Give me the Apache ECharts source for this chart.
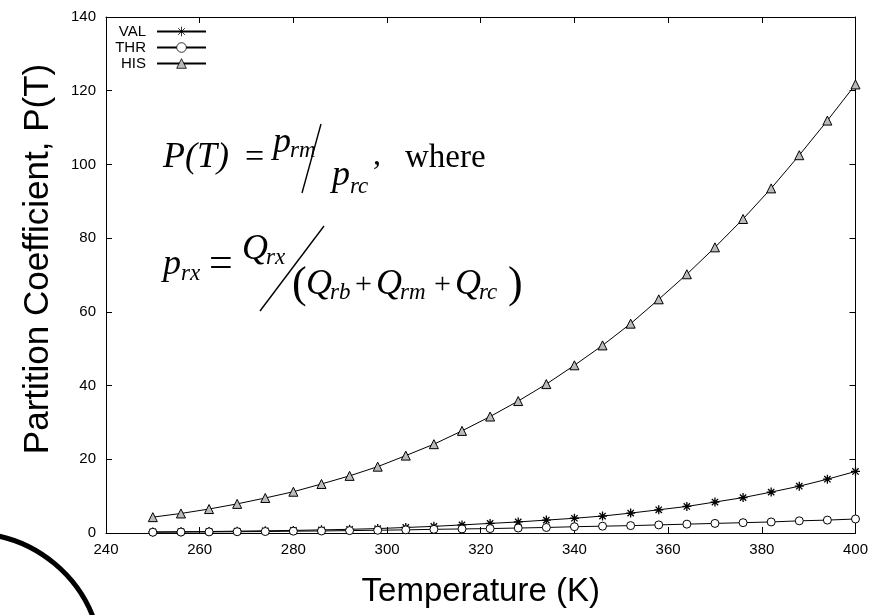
<!DOCTYPE html>
<html>
<head>
<meta charset="utf-8">
<script src="https://cdn.jsdelivr.net/npm/echarts@6/dist/echarts.min.js"></script>
<style>
  html, body { margin: 0; padding: 0; background: #fff; }
  #chart { width: 871px; height: 615px; }
</style>
</head>
<body>
<div id="chart"></div>
<script>
// temperatures (K) sampled every 6 K
var temps = [250, 256, 262, 268, 274, 280, 286, 292, 298, 304, 310, 316, 322,
             328, 334, 340, 346, 352, 358, 364, 370, 376, 382, 388, 394, 400];

// partition coefficient
var valData = [0.3, 0.35, 0.4, 0.5, 0.6, 0.7, 0.85, 1.0, 1.2, 1.5, 1.8, 2.2, 2.6,
               3.0, 3.5, 4.0, 4.6, 5.4, 6.3, 7.2, 8.4, 9.6, 11.1, 12.7, 14.6, 16.7];
var thrData = [0.2, 0.25, 0.3, 0.35, 0.4, 0.5, 0.55, 0.65, 0.75, 0.85, 1.0, 1.1, 1.2,
               1.35, 1.5, 1.7, 1.85, 2.0, 2.2, 2.4, 2.6, 2.8, 3.0, 3.3, 3.5, 3.8];
var hisData = [4.3, 5.3, 6.5, 7.9, 9.5, 11.2, 13.3, 15.5, 18.0, 21.0, 24.1, 27.7, 31.6,
               35.8, 40.4, 45.5, 50.9, 56.8, 63.4, 70.2, 77.5, 85.2, 93.5, 102.5, 111.9, 121.7];

var seriesNames = ['VAL', 'THR', 'HIS'];

// gnuplot style asterisk (+ and x overlaid)
var ASTERISK = 'path://M0,-10L0,10M-10,0L10,0M-7,-7L7,7M-7,7L7,-7';

function pairs(vals) {
  return temps.map(function (t, i) { return [t, vals[i]]; });
}

var chart = echarts.init(document.getElementById('chart'));

var SERIF = '"Liberation Serif", "DejaVu Serif", serif';

// formula pieces: text placed by its baseline
function piece(str, x, base, size, italic) {
  return {
    type: 'text',
    x: x,
    y: base - 0.34 * size,
    style: {
      text: str,
      fill: '#000',
      font: (italic ? 'italic ' : '') + size + 'px ' + SERIF,
      verticalAlign: 'middle',
      align: 'left'
    },
    z: 100
  };
}
function slash(x1, y1, x2, y2) {
  return {
    type: 'line',
    shape: { x1: x1, y1: y1, x2: x2, y2: y2 },
    style: { stroke: '#000', lineWidth: 1.4 },
    z: 100
  };
}

var graphics = [
  // P(T) = p_rm / p_rc , where
  piece('P(T)', 163, 170, 36, true),
  piece('=', 245, 170, 34, false),
  piece('p', 273, 155, 36, true),
  piece('rm', 290, 159, 23, true),
  slash(302, 193, 321, 124),
  piece('p', 332, 188, 36, true),
  piece('rc', 350, 195, 23, true),
  piece(',', 373, 166, 32, false),
  piece('where', 405, 170, 33, false),
  // p_rx = Q_rx / (Q_rb + Q_rm + Q_rc)
  piece('p', 163, 277, 36, true),
  piece('rx', 181, 282, 23, true),
  piece('=', 209, 279, 42, false),
  piece('Q', 242, 262, 36, true),
  piece('rx', 266, 266, 23, true),
  slash(260, 311, 324, 226),
  piece('(', 292, 300, 44, false),
  piece('Q', 306, 297, 36, true),
  piece('rb', 330, 301, 23, true),
  piece('+', 355, 295, 30, false),
  piece('Q', 376, 297, 36, true),
  piece('rm', 400, 301, 23, true),
  piece('+', 434, 295, 30, false),
  piece('Q', 455, 297, 36, true),
  piece('rc', 479, 301, 23, true),
  piece(')', 508, 300, 44, false),
  // stray arc at the bottom-left corner
  {
    type: 'arc',
    shape: { cx: -30, cy: 665, r: 132, startAngle: -1.5, endAngle: -0.25, clockwise: true },
    style: { stroke: '#000', lineWidth: 5, fill: null },
    z: 100
  }
];

var tickFont = { fontFamily: 'Liberation Sans', fontSize: 15, color: '#000' };

function oneLegend(name, top) {
  return {
    data: [name],
    right: 664,
    top: top,
    align: 'right',
    itemWidth: 49,
    itemHeight: 12,
    itemGap: 0,
    padding: 0,
    itemStyle: { borderWidth: 0.8 },
    textStyle: { fontFamily: 'Liberation Sans', fontSize: 15, color: '#000', padding: [0, 6, 0, 0] }
  };
}

var option = {
  animation: false,
  backgroundColor: '#fff',
  legend: [oneLegend('VAL', 24), oneLegend('THR', 40), oneLegend('HIS', 56)],
  grid: { left: 106, right: 15, top: 17, bottom: 82, containLabel: false },
  xAxis: [{
    type: 'value',
    min: 240, max: 400, interval: 20,
    name: 'Temperature (K)',
    nameLocation: 'middle',
    nameGap: 42,
    nameTextStyle: { fontFamily: 'Liberation Sans', fontSize: 33, color: '#000' },
    axisLine: { show: true, onZero: false, lineStyle: { color: '#000', width: 1 } },
    axisTick: { show: true, inside: true, length: 6, lineStyle: { color: '#000' } },
    axisLabel: Object.assign({ margin: 9 }, tickFont),
    splitLine: { show: false }
  }, {
    type: 'value',
    position: 'top',
    min: 240, max: 400, interval: 20,
    axisLine: { show: true, onZero: false, lineStyle: { color: '#000', width: 1 } },
    axisTick: { show: true, inside: true, length: 6, lineStyle: { color: '#000' } },
    axisLabel: { show: false },
    splitLine: { show: false }
  }],
  yAxis: [{
    type: 'value',
    min: 0, max: 140, interval: 20,
    name: 'Partition Coefficient, P(T)',
    nameLocation: 'middle',
    nameGap: 50,
    nameTextStyle: { fontFamily: 'Liberation Sans', fontSize: 35, color: '#000', padding: [0, 0, 0, 32] },
    axisLine: { show: true, onZero: false, lineStyle: { color: '#000', width: 1 } },
    axisTick: { show: true, inside: true, length: 6, lineStyle: { color: '#000' } },
    axisLabel: Object.assign({ margin: 10 }, tickFont),
    splitLine: { show: false }
  }, {
    type: 'value',
    position: 'right',
    min: 0, max: 140, interval: 20,
    axisLine: { show: true, onZero: false, lineStyle: { color: '#000', width: 1 } },
    axisTick: { show: true, inside: true, length: 6, lineStyle: { color: '#000' } },
    axisLabel: { show: false },
    splitLine: { show: false }
  }],
  series: [{
    name: seriesNames[0],
    type: 'line',
    data: pairs(valData),
    symbol: ASTERISK,
    symbolSize: 9,
    lineStyle: { color: '#000', width: 1 },
    itemStyle: { color: '#000', borderColor: '#000', borderWidth: 1.3 }
  }, {
    name: seriesNames[1],
    type: 'line',
    data: pairs(thrData),
    symbol: 'circle',
    symbolSize: 8,
    lineStyle: { color: '#000', width: 1 },
    itemStyle: { color: '#fff', borderColor: '#000', borderWidth: 1 }
  }, {
    name: seriesNames[2],
    type: 'line',
    data: pairs(hisData),
    symbol: 'triangle',
    symbolSize: 9,
    lineStyle: { color: '#000', width: 1 },
    itemStyle: { color: '#bbb', borderColor: '#000', borderWidth: 1 }
  }],
  graphic: graphics
};

chart.setOption(option);
</script>
</body>
</html>
